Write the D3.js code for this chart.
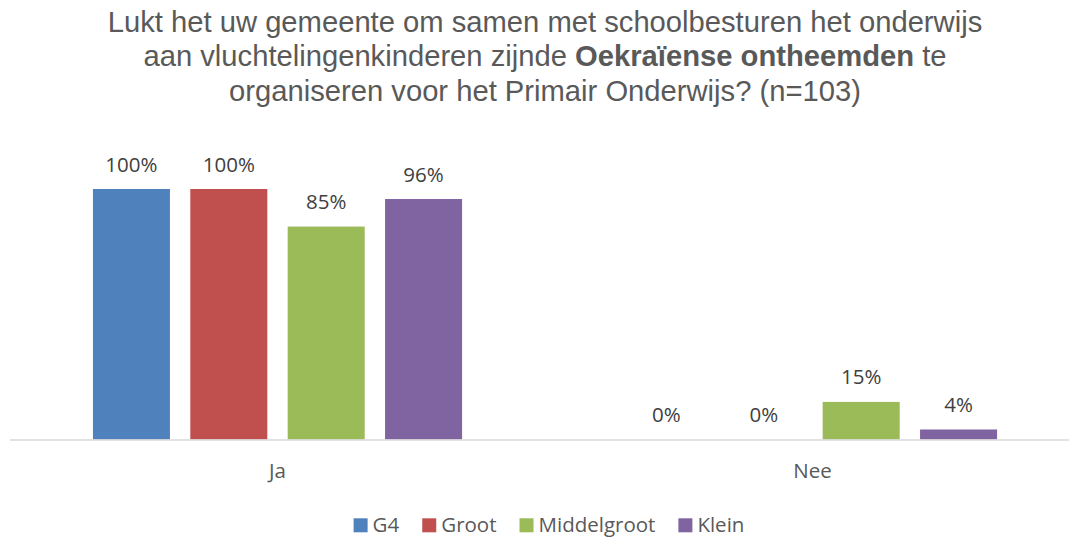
<!DOCTYPE html>
<html>
<head>
<meta charset="utf-8">
<script src="https://cdn.jsdelivr.net/npm/d3@7/dist/d3.min.js"></script>
<style>
  html, body { margin: 0; padding: 0; background: #fff; }
  svg { display: block; }
</style>
</head>
<body>
<svg id="chart" width="1069" height="538"></svg>
<script>
// ---- Data ----
const categories = ["Ja", "Nee"];
const seriesNames = ["G4", "Groot", "Middelgroot", "Klein"];
const valuesG4 = [1.00, 0.00];
const valuesGroot = [1.00, 0.00];
const valuesMiddelgroot = [0.85, 0.15];
const valuesKlein = [0.96, 0.04];
const seriesColors = ["#4f81bd", "#c0504d", "#9bbb59", "#8064a2"];
const titleLines = [
  [{t: "Lukt het uw gemeente om samen met schoolbesturen het onderwijs", b: false}],
  [{t: "aan vluchtelingenkinderen zijnde ", b: false}, {t: "Oekraïense ontheemden", b: true}, {t: " te", b: false}],
  [{t: "organiseren voor het Primair Onderwijs? (n=103)", b: false}]
];

const seriesValues = [valuesG4, valuesGroot, valuesMiddelgroot, valuesKlein];

// ---- Layout ----
const W = 1069, H = 538;
const plotLeft = 10, plotRight = 1080;
const baseY = 439.5, topY = 189;
const labelFont = "'Open Sans', 'Noto Sans', sans-serif";

const svg = d3.select("#chart");

const x0 = d3.scaleBand().domain(categories).range([plotLeft, plotRight]);
const bw = x0.bandwidth();
const x1 = d3.scaleBand().domain(seriesNames)
  .range([bw * 0.155, bw * 0.845])
  .paddingInner(0.209).paddingOuter(0);
const y = d3.scaleLinear().domain([0, 1]).range([baseY, topY]);

// ---- Title ----
const title = svg.append("g");
titleLines.forEach((parts, i) => {
  const t = title.append("text")
    .attr("x", 545)
    .attr("y", 32 + i * 34.3)
    .attr("text-anchor", "middle")
    .attr("fill", "#595959")
    .style("font-family", "'Liberation Sans', Arial, sans-serif")
    .style("font-size", "29.2px");
  parts.forEach(p => {
    t.append("tspan").text(p.t).attr("font-weight", p.b ? "bold" : "normal");
  });
});

// ---- Bars ----
const rows = [];
categories.forEach((c, ci) => {
  seriesNames.forEach((s, si) => {
    rows.push({cat: c, ser: s, v: seriesValues[si][ci], color: seriesColors[si]});
  });
});

const g = svg.append("g");
g.selectAll("rect.bar").data(rows).enter().append("rect")
  .attr("class", "bar")
  .attr("x", d => x0(d.cat) + x1(d.ser))
  .attr("width", x1.bandwidth())
  .attr("y", d => y(d.v))
  .attr("height", d => y(0) - y(d.v))
  .attr("fill", d => d.color);

// ---- Axis line ----
const xAxis = d3.axisBottom(x0).tickSize(0).tickPadding(0);
const axisG = svg.append("g").attr("transform", `translate(0,${baseY + 0.5})`).call(xAxis);
axisG.select(".domain").attr("stroke", "#d9d9d9").attr("stroke-width", 1.5)
  .attr("d", `M${plotLeft},0H${plotRight}`);
axisG.selectAll(".tick text")
  .attr("y", 0)
  .attr("dy", 0)
  .attr("transform", "translate(0,38)")
  .attr("fill", "#595959")
  .style("font-family", labelFont)
  .style("font-size", "20.5px");

// ---- Value labels ----
g.selectAll("text.val").data(rows).enter().append("text")
  .attr("class", "val")
  .attr("x", d => x0(d.cat) + x1(d.ser) + x1.bandwidth() / 2)
  .attr("y", d => y(d.v) - 17.5)
  .attr("text-anchor", "middle")
  .attr("fill", "#404040")
  .style("font-family", labelFont)
  .style("font-size", "20.5px")
  .text(d => d3.format(".0%")(d.v));

// ---- Legend ----
const legend = svg.append("g");
const sq = 14, gapText = 5, gapItem = 23;
const items = legend.selectAll("g.item").data(seriesNames).enter().append("g").attr("class", "item");
items.append("rect").attr("width", sq).attr("height", sq).attr("y", 518.3)
  .attr("fill", (d, i) => seriesColors[i]);
items.append("text").attr("x", sq + gapText).attr("y", 531.7)
  .attr("fill", "#595959")
  .style("font-family", labelFont)
  .style("font-size", "20.5px")
  .text(d => d);
let widths = [];
items.each(function() {
  widths.push(sq + gapText + d3.select(this).select("text").node().getComputedTextLength());
});
const total = d3.sum(widths) + gapItem * (widths.length - 1);
let cx = 549 - total / 2;
items.each(function(d, i) {
  d3.select(this).attr("transform", `translate(${cx},0)`);
  cx += widths[i] + gapItem;
});
</script>
</body>
</html>
